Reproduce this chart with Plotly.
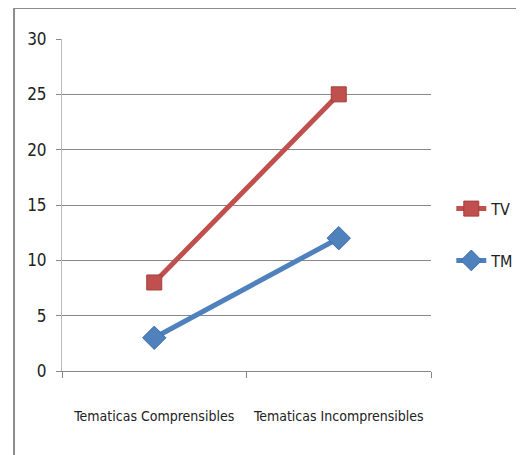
import plotly.graph_objects as go

categories = ["Tematicas Comprensibles", "Tematicas Incomprensibles"]
tv_values = [8, 25]
tm_values = [3, 12]
y_ticks = [0, 5, 10, 15, 20, 25, 30]

FONT = "DejaVu Sans Condensed, Liberation Sans Narrow, sans-serif"

fig = go.Figure()
fig.add_trace(go.Scatter(
    x=categories, y=tv_values, name="TV", mode="lines+markers",
    line=dict(color="#C0504D", width=5),
    marker=dict(symbol="square", size=15, color="#C0504D", line=dict(color="#A33E3B", width=1)),
    legendgroup="a",
))
fig.add_trace(go.Scatter(
    x=categories, y=tm_values, name="TM", mode="lines+markers",
    line=dict(color="#4F81BD", width=5),
    marker=dict(symbol="diamond", size=18, color="#4F81BD", line=dict(color="#3F6FA8", width=1)),
    legendgroup="b",
))

fig.update_layout(
    width=524, height=455,
    margin=dict(l=54, r=101, t=31, b=92, autoexpand=False),
    paper_bgcolor="white", plot_bgcolor="white",
    font=dict(family=FONT, size=15, color="#222222"),
    showlegend=True,
    legend=dict(x=1.055, y=0.54, xanchor="left", yanchor="top",
                font=dict(size=16, family=FONT, color="#222222"),
                tracegroupgap=28, bgcolor="rgba(0,0,0,0)"),
    xaxis=dict(
        type="category", range=[-0.5, 1.5], automargin=False, tickangle=0,
        tickson="boundaries", ticks="outside", ticklen=6, tickcolor="#888888",
        showline=True, linecolor="#888888", linewidth=1, ticklabelstandoff=32,
        showgrid=False, tickfont=dict(size=14, family=FONT),
    ),
    yaxis=dict(
        range=[0, 30], tickvals=y_ticks, ticks="outside", ticklen=5, tickcolor="#888888",
        showline=True, linecolor="#BBBBBB", linewidth=1, automargin=False,
        ticklabelstandoff=6,
        showgrid=True, gridcolor="#888888", gridwidth=1,
        zeroline=False, tickfont=dict(size=17, family=FONT),
    ),
    shapes=[dict(type="rect", xref="paper", yref="paper",
                 x0=-0.13, x1=1.6, y0=-0.5, y1=1.093,
                 line=dict(color="#8C8C8C", width=2), fillcolor="rgba(0,0,0,0)", layer="below")],
)

fig.write_html("out.html")
